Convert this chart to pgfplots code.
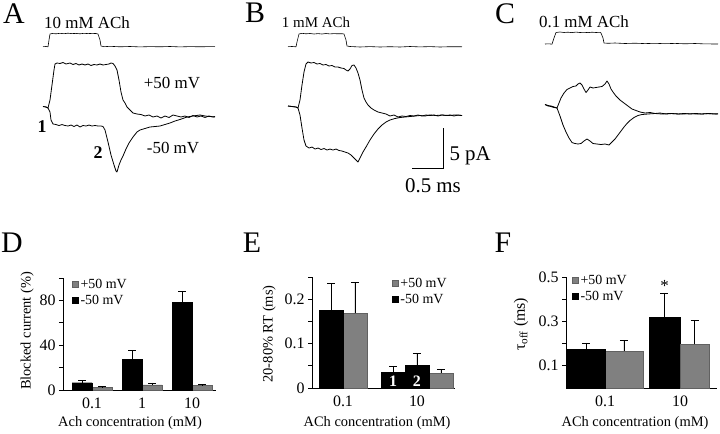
\documentclass[border=0pt]{standalone}
\usepackage{pgfplots}
\pgfplotsset{compat=1.18}
\usepackage{fontspec}
\setmainfont{Liberation Serif}
\newcommand{\fs}[1]{\fontsize{#1}{#1}\selectfont}
\pgfplotsset{
  barax/.style={
    scale only axis, anchor=south west,
    axis x line*=bottom, axis y line*=left,
    axis line style={black, line width=0.7bp},
    tick align=outside, major tick length=4bp, minor tick length=4bp,
    tick style={black, line width=0.7bp},
    xtick style={draw=none},
    ticklabel style={font=\fs{16}},
    /pgf/number format/assume math mode=true,
    label style={font=\fs{14.5}},
    clip=false,
    legend style={draw=none, fill=none, font=\fs{14}, inner sep=0pt, outer sep=0pt,
      row sep=1bp, legend cell align=left, anchor=north west},
  },
  sqlegend/.style={legend image code/.code={\draw[##1, line width=0.5bp] (0bp,-3bp) rectangle (6bp,3bp);}},
  blk/.style={fill=black, draw=black},
  gry/.style={fill=black!50, draw=black!62},
  eb/.style={error bars/y dir=plus, error bars/y explicit, error bars/error mark=-,
    error bars/error mark options={rotate=90, black, mark size=4bp, line width=0.6bp},
    error bars/error bar style={black, line width=0.6bp}},
  trace/.style={black, line width=0.8bp, no markers, line join=round},
  stim/.style={black, line width=0.6bp, no markers, line join=round},
}
\begin{document}
\begin{tikzpicture}
\path[use as bounding box] (0,0) rectangle (720bp,-434bp);
% ---------------- traces (pixel coordinates) ----------------
\begin{axis}[at={(0,0)}, anchor=north west, scale only axis, width=720bp, height=434bp,
  xmin=0, xmax=720, ymin=0, ymax=434, y dir=reverse, axis lines=none, clip=false]
% Panel A
\addplot[stim] coordinates {(43,46.7)(46,46.5)(48,46.8)(49,40)(50,34)(52,33.5)(56,33.8)(60,33.3)(64,33.7)(68,33.2)(72,33.6)(76,33.4)(80,33.8)(84,33.3)(88,33.6)(92,33.4)(96,33.5)(98,34)(100,40)(101,46)(104,46.7)(110,46.3)(120,46.8)(130,46.5)(140,46.9)(150,46.6)(160,46.8)(170,46.5)(180,46.9)(190,46.6)(200,46.8)(210,46.6)(215,46.7)};
\addplot[trace] coordinates {(43,106.5)(46,107)(48,108)(50,100)(52,85)(54,70)(55,64)(57,63)(60,63.5)(63,62.5)(66,64)(70,63)(73,64.5)(76,63.5)(79,65)(82,64)(85,65)(88,64)(91,65.5)(94,64.5)(97,65)(100,64)(103,65)(106,64.5)(109,64)(111,63)(113,63.5)(115,66)(117,70)(119,80)(121,92)(123,100)(125,103)(127,107)(130,110)(133,113)(137,114)(141,114.5)(145,116)(149,115)(153,117)(157,116)(161,118)(165,116)(169,117.5)(173,115)(177,116)(181,117)(185,116)(189,117.5)(193,115.5)(197,117)(201,116)(205,117.5)(209,116)(213,117)(215,116.5)};
\addplot[trace] coordinates {(43,106.5)(46,107)(48,108)(50,112)(51,120)(53,124)(56,124.5)(59,125.5)(62,124.5)(65,125.5)(68,126)(71,125)(74,126.5)(77,125)(80,127)(83,125.5)(86,126)(89,125)(92,126)(95,125.5)(98,126)(101,126)(103,126.5)(105,130)(108,142)(111,155)(114,165)(116,171)(117,172)(119,165)(121,160)(123,156)(126,149)(129,143)(133,137)(137,132)(140,130)(145,128.5)(150,127)(155,126.5)(160,126)(165,124.5)(170,123)(175,121)(180,119.5)(187,117)(193,116)(200,115)(205,116)(210,116.5)(215,117)};
\node[font=\fs{17}, anchor=base] at (axis cs:87,28) {10 mM ACh};
\node[font=\fs{17}, anchor=base] at (axis cs:172,88) {+50 mV};
\node[font=\fs{17}, anchor=base] at (axis cs:173,153) {-50 mV};
\node[font=\bfseries\fs{18}, anchor=base] at (axis cs:42,132) {1};
\node[font=\bfseries\fs{18}, anchor=base] at (axis cs:98,158) {2};
% Panel B
\addplot[stim] coordinates {(288,46.7)(292,46.5)(296,46.8)(297,42)(299,34)(302,33.3)(306,33.8)(310,33.5)(314,34)(318,33.6)(322,34)(326,33.5)(330,33.9)(334,33.6)(338,33.8)(342,33.7)(344,34)(346,40)(347,46)(350,46.5)(360,47)(370,46.6)(380,47)(390,46.7)(400,47)(410,46.5)(420,46.9)(430,46.6)(440,47)(450,46.7)(462,46.8)};
\addplot[trace] coordinates {(288,106)(292,106.5)(296,107)(298,108)(300,100)(302,85)(304,72)(306,64)(308,62)(311,63)(314,62.5)(317,64)(320,63.5)(323,65)(326,64.5)(329,66)(332,65.5)(335,67)(338,67)(341,68)(344,68.5)(346,70)(348,71)(350,69)(352,65.5)(354,65)(356,68)(358,73)(360,80)(362,90)(364,98)(366,102)(368,105)(371,108)(374,110)(378,112)(382,113)(386,114)(390,116)(394,115)(398,117)(402,116)(406,116.5)(410,115.5)(414,116)(418,115)(422,116)(426,115)(430,115.5)(434,115)(438,116)(442,115)(446,115.5)(450,115)(454,116)(458,115)(462,115.5)};
\addplot[trace] coordinates {(288,106)(292,106.5)(296,107)(298,108)(300,115)(302,128)(304,140)(306,146)(309,148)(312,147)(315,149)(318,148)(321,149.5)(324,148.5)(327,150)(330,149)(333,150)(336,149)(339,150.5)(342,151)(345,152)(348,153)(351,155)(354,158)(357,161)(358,162)(360,158)(363,152)(366,147)(370,140)(374,134)(378,129)(382,125)(386,122)(390,120)(395,118.5)(400,117.5)(405,117)(410,116.5)(415,116)(420,115.5)(425,116)(430,115)(436,115.5)(442,115)(448,115.5)(455,115)(462,115.5)};
\node[font=\fs{15}, anchor=base] at (axis cs:316,27) {1 mM ACh};
% scale bar
\addplot[black, line width=0.9bp, no markers] coordinates {(412,168)(443,168)(443,128)};
\node[font=\fs{21}, anchor=base west] at (axis cs:446,160) {5 pA};
\node[font=\fs{21}, anchor=base] at (axis cs:433,192) {0.5 ms};
% Panel C
\addplot[stim] coordinates {(545,44)(549,43.8)(552,44.2)(554,38)(556,32.5)(560,32)(564,32.5)(568,32.2)(572,32.6)(576,32.1)(580,32.5)(584,32.3)(588,32.6)(592,32.2)(596,32.5)(600,32.3)(601,33)(603,38)(604,43)(608,43.3)(615,43)(625,43.5)(635,43.2)(645,43.6)(655,43.3)(665,43.7)(675,43.4)(685,43.8)(695,43.5)(705,43.9)(718,44)};
\addplot[trace] coordinates {(545,104.5)(548,105.5)(551,106)(554,107)(557,108)(559,103)(561,98)(564,93)(567,89.5)(570,88)(573,86.5)(576,86)(578,84)(580,83)(582,85)(584,89)(586,92.5)(588,90)(590,87)(593,88)(596,87.5)(599,87)(602,86.5)(605,84)(607,81)(609,84)(611,89)(613,92)(616,96)(620,100)(624,103)(628,106)(632,109)(636,110.5)(640,112)(645,113)(650,112.5)(655,113.5)(660,113)(666,114)(672,113.5)(678,114)(684,113.5)(690,114)(696,113.5)(702,114)(708,113.5)(714,114)(718,113.8)};
\addplot[trace] coordinates {(545,104.5)(548,106)(551,106.5)(554,107.5)(557,108)(560,116)(563,125)(566,132)(569,138)(572,142.5)(575,143.5)(578,144)(581,143.5)(584,141)(587,139)(590,141)(593,143.5)(597,144)(601,144.5)(605,144)(609,145)(612,142)(615,139)(618,135)(621,131)(624,127)(627,123.5)(630,120.5)(634,117.5)(638,115.5)(642,114.5)(648,114)(655,113.5)(662,114)(670,113.5)(680,114)(690,113.7)(700,114)(710,113.6)(718,114)};
\node[font=\fs{17}, anchor=base] at (axis cs:584,27) {0.1 mM ACh};
% panel letters
\node[font=\fs{30}] at (axis cs:14,14) {A};
\node[font=\fs{30}] at (axis cs:255,13) {B};
\node[font=\fs{30}] at (axis cs:505,14) {C};
\node[font=\fs{30}] at (axis cs:12,243) {D};
\node[font=\fs{30}] at (axis cs:252,243) {E};
\node[font=\fs{30}] at (axis cs:503,243) {F};
\end{axis}
% ---------------- D ----------------
\begin{axis}[barax, at={(63bp,-390bp)}, width=153bp, height=112bp,
  xmin=-0.58, xmax=2.48, ymin=0, ymax=100,
  xtick={0,1,2}, xticklabels={0.1,1,10},
  ytick={0,40,80}, minor ytick={20,60,100},
  xlabel={Ach concentration (mM)}, ylabel={Blocked current (\%)},
  xlabel style={at={(axis description cs:0.438,-0.295)}, anchor=center},
  ylabel style={at={(axis description cs:-0.235,0.527)}, anchor=center},
  legend style={at={(rel axis cs:0.059,1.009)}}]
\addplot[ybar, sqlegend, gry, bar width=20bp, bar shift=0bp, eb] coordinates {(0.2,2.3) +- (0,0.6) (1.2,4.5) +- (0,1.8) (2.2,4) +- (0,1.3)};
\addplot[ybar, sqlegend, blk, bar width=20bp, bar shift=0bp, eb] coordinates {(-0.2,6.5) +- (0,2) (0.8,27.5) +- (0,8) (1.8,78) +- (0,10)};
\legend{+50 mV, -50 mV}
\end{axis}
% ---------------- E ----------------
\begin{axis}[barax, at={(312bp,-388bp)}, width=143bp, height=111bp,
  xmin=-0.419, xmax=1.514, ymin=0, ymax=0.25,
  xtick={0,1}, xticklabels={0.1,10},
  ytick={0,0.1,0.2}, minor ytick={0.05,0.15,0.25},
  xlabel={ACh concentration (mM)}, ylabel={20-80\% RT (ms)},
  xlabel style={at={(axis description cs:0.455,-0.315)}, anchor=center},
  ylabel style={at={(axis description cs:-0.30,0.487)}, anchor=center},
  legend style={at={(rel axis cs:0.559,1.009)}}]
\addplot[ybar, sqlegend, gry, bar width=24bp, bar shift=0bp, eb] coordinates {(0.162,0.168) +- (0,0.070)};
\addplot[ybar, sqlegend, blk, bar width=24bp, bar shift=0bp, eb] coordinates {(-0.162,0.175) +- (0,0.061)};
\addplot[ybar, forget plot, gry, bar width=24bp, bar shift=0bp, eb] coordinates {(1.324,0.034) +- (0,0.008)};
\addplot[ybar, forget plot, blk, bar width=24bp, bar shift=0bp, eb] coordinates {(0.676,0.036) +- (0,0.012)};
\addplot[ybar, forget plot, blk, bar width=24bp, bar shift=0bp, eb] coordinates {(1,0.052) +- (0,0.027)};
\node[font=\bfseries\fs{16}, text=white, anchor=south, inner sep=0pt, yshift=1bp] at (axis cs:0.676,0) {1};
\node[font=\bfseries\fs{16}, text=white, anchor=south, inner sep=0pt, yshift=1bp] at (axis cs:1,0) {2};
\legend{+50 mV, -50 mV}
\end{axis}
% ---------------- F ----------------
\begin{axis}[barax, at={(566bp,-388bp)}, width=151bp, height=111bp,
  xmin=-0.52, xmax=1.493, ymin=0, ymax=0.5,
  xtick={0,1}, xticklabels={0.1,10},
  ytick={0.1,0.3,0.5}, minor ytick={0.2,0.4},
  xlabel={ACh concentration (mM)}, ylabel={τ\textsubscript{off} (ms)},
  xlabel style={at={(axis description cs:0.457,-0.315)}, anchor=center},
  ylabel style={at={(axis description cs:-0.298,0.575)}, anchor=center, font=\fs{16}},
  legend style={at={(rel axis cs:0.04,1.036)}}]
\addplot[ybar, sqlegend, gry, bar width=38bp, bar shift=0bp, eb] coordinates {(0.253,0.166) +- (0,0.047)};
\addplot[ybar, sqlegend, blk, bar width=38bp, bar shift=0bp, eb] coordinates {(-0.253,0.173) +- (0,0.030)};
\addplot[ybar, forget plot, blk, bar width=31bp, bar shift=0bp, eb] coordinates {(0.793,0.317) +- (0,0.111)};
\addplot[ybar, forget plot, gry, bar width=29bp, bar shift=0bp, eb] coordinates {(1.193,0.196) +- (0,0.109)};
\node[font=\fs{17}, anchor=south, inner sep=1bp] at (axis cs:0.793,0.428) {*};
\legend{+50 mV, -50 mV}
\end{axis}
\end{tikzpicture}
\end{document}
